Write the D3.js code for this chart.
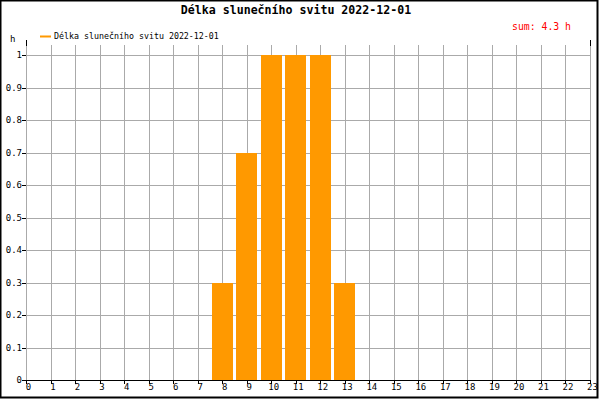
<!DOCTYPE html>
<html><head><meta charset="utf-8">
<script src="https://cdn.jsdelivr.net/npm/d3@7"></script>
<style>body{margin:0;background:#fff}svg{display:block}</style>
</head><body>
<script>
const hours = d3.range(0, 24);
const values = [0,0,0,0,0,0,0,0,0.3,0.7,1,1,1,0.3,0,0,0,0,0,0,0,0,0,0];
const yTicks = [0,0.1,0.2,0.3,0.4,0.5,0.6,0.7,0.8,0.9,1];
const title = "Délka slunečního svitu 2022-12-01";
const legendLabel = "Délka slunečního svitu 2022-12-01";
const sumLabel = "sum: 4.3 h";
const unitLabel = "h";

const W = 600, H = 400;
const svg = d3.select("body").append("svg").attr("width", W).attr("height", H);
svg.append("rect").attr("width", W).attr("height", H).attr("fill", "#fff");

const x = d3.scaleLinear().domain([0, 23]).range([26, 590]);
const y = d3.scaleLinear().domain([0, 1]).range([380, 55]);
const px = v => Math.round(v) + 0.5;
const mono = "'DejaVu Sans Mono', 'Liberation Mono', monospace";
const grid = "#aaaaaa";

// vertical grid
svg.append("g").selectAll("line").data(hours).join("line")
  .attr("x1", d => px(x(d))).attr("x2", d => px(x(d)))
  .attr("y1", 45).attr("y2", 380).attr("stroke", grid).attr("stroke-width", 1);
// horizontal grid
svg.append("g").selectAll("line").data(yTicks.filter(d => d > 0)).join("line")
  .attr("x1", x(0)).attr("x2", x(23) + 1)
  .attr("y1", d => px(y(d))).attr("y2", d => px(y(d)))
  .attr("stroke", grid).attr("stroke-width", 1);

// bars
const bw = 21;
svg.append("g").selectAll("rect").data(hours.filter(h => values[h] > 0)).join("rect")
  .attr("x", h => Math.round(x(h) - bw / 2)).attr("width", bw)
  .attr("y", h => Math.round(y(values[h]))).attr("height", h => Math.round(y(0)) - Math.round(y(values[h])))
  .attr("fill", "#ff9900");

// top axis stubs
[0, 23].forEach(h => {
  svg.append("line").attr("x1", px(x(h))).attr("x2", px(x(h)))
    .attr("y1", 40).attr("y2", 46).attr("stroke", "#000");
});

// x axis
const xAxis = svg.append("g").attr("transform", "translate(0,380)");
xAxis.append("line").attr("x1", x(0)).attr("x2", x(23) + 1)
  .attr("y1", 0.5).attr("y2", 0.5).attr("stroke", "#000");
xAxis.selectAll("line.t").data(hours).join("line").attr("class", "t")
  .attr("x1", d => px(x(d))).attr("x2", d => px(x(d)))
  .attr("y1", 0).attr("y2", 4).attr("stroke", "#000");
xAxis.selectAll("text").data(hours).join("text")
  .attr("x", d => x(d) + 2.5).attr("y", 9.5)
  .attr("text-anchor", "middle").attr("font-family", mono).attr("font-size", 9)
  .text(d => d);

// y axis ticks and labels
const yAxis = svg.append("g");
yAxis.selectAll("line").data(yTicks).join("line")
  .attr("x1", 22).attr("x2", 26)
  .attr("y1", d => px(y(d))).attr("y2", d => px(y(d)))
  .attr("stroke", "#000");
yAxis.selectAll("text").data(yTicks).join("text")
  .attr("x", 22).attr("y", d => y(d) + 3)
  .attr("text-anchor", "end").attr("font-family", mono).attr("font-size", 9)
  .text(d => d3.format("~g")(d));

svg.append("text").attr("x", 10).attr("y", 42).attr("font-family", mono)
  .attr("font-size", 9).text(unitLabel);

// title
svg.append("text").attr("x", 296).attr("y", 14).attr("text-anchor", "middle")
  .attr("font-family", mono).attr("font-weight", "bold").attr("font-size", 11.6)
  .text(title);

// sum
svg.append("text").attr("x", 571).attr("y", 30).attr("text-anchor", "end")
  .attr("font-family", mono).attr("font-size", 9.8).attr("fill", "#ff0000")
  .text(sumLabel);

// legend
svg.append("line").attr("x1", 40).attr("x2", 51).attr("y1", 36.5).attr("y2", 36.5)
  .attr("stroke", "#ff9900").attr("stroke-width", 2);
svg.append("text").attr("x", 54).attr("y", 39).attr("font-family", mono)
  .attr("font-size", 8.3).text(legendLabel);

// frame
svg.append("rect").attr("x", 0.5).attr("y", 0.5).attr("width", 597).attr("height", 397)
  .attr("fill", "none").attr("stroke", "#000").attr("stroke-width", 2);
</script>
</body></html>
